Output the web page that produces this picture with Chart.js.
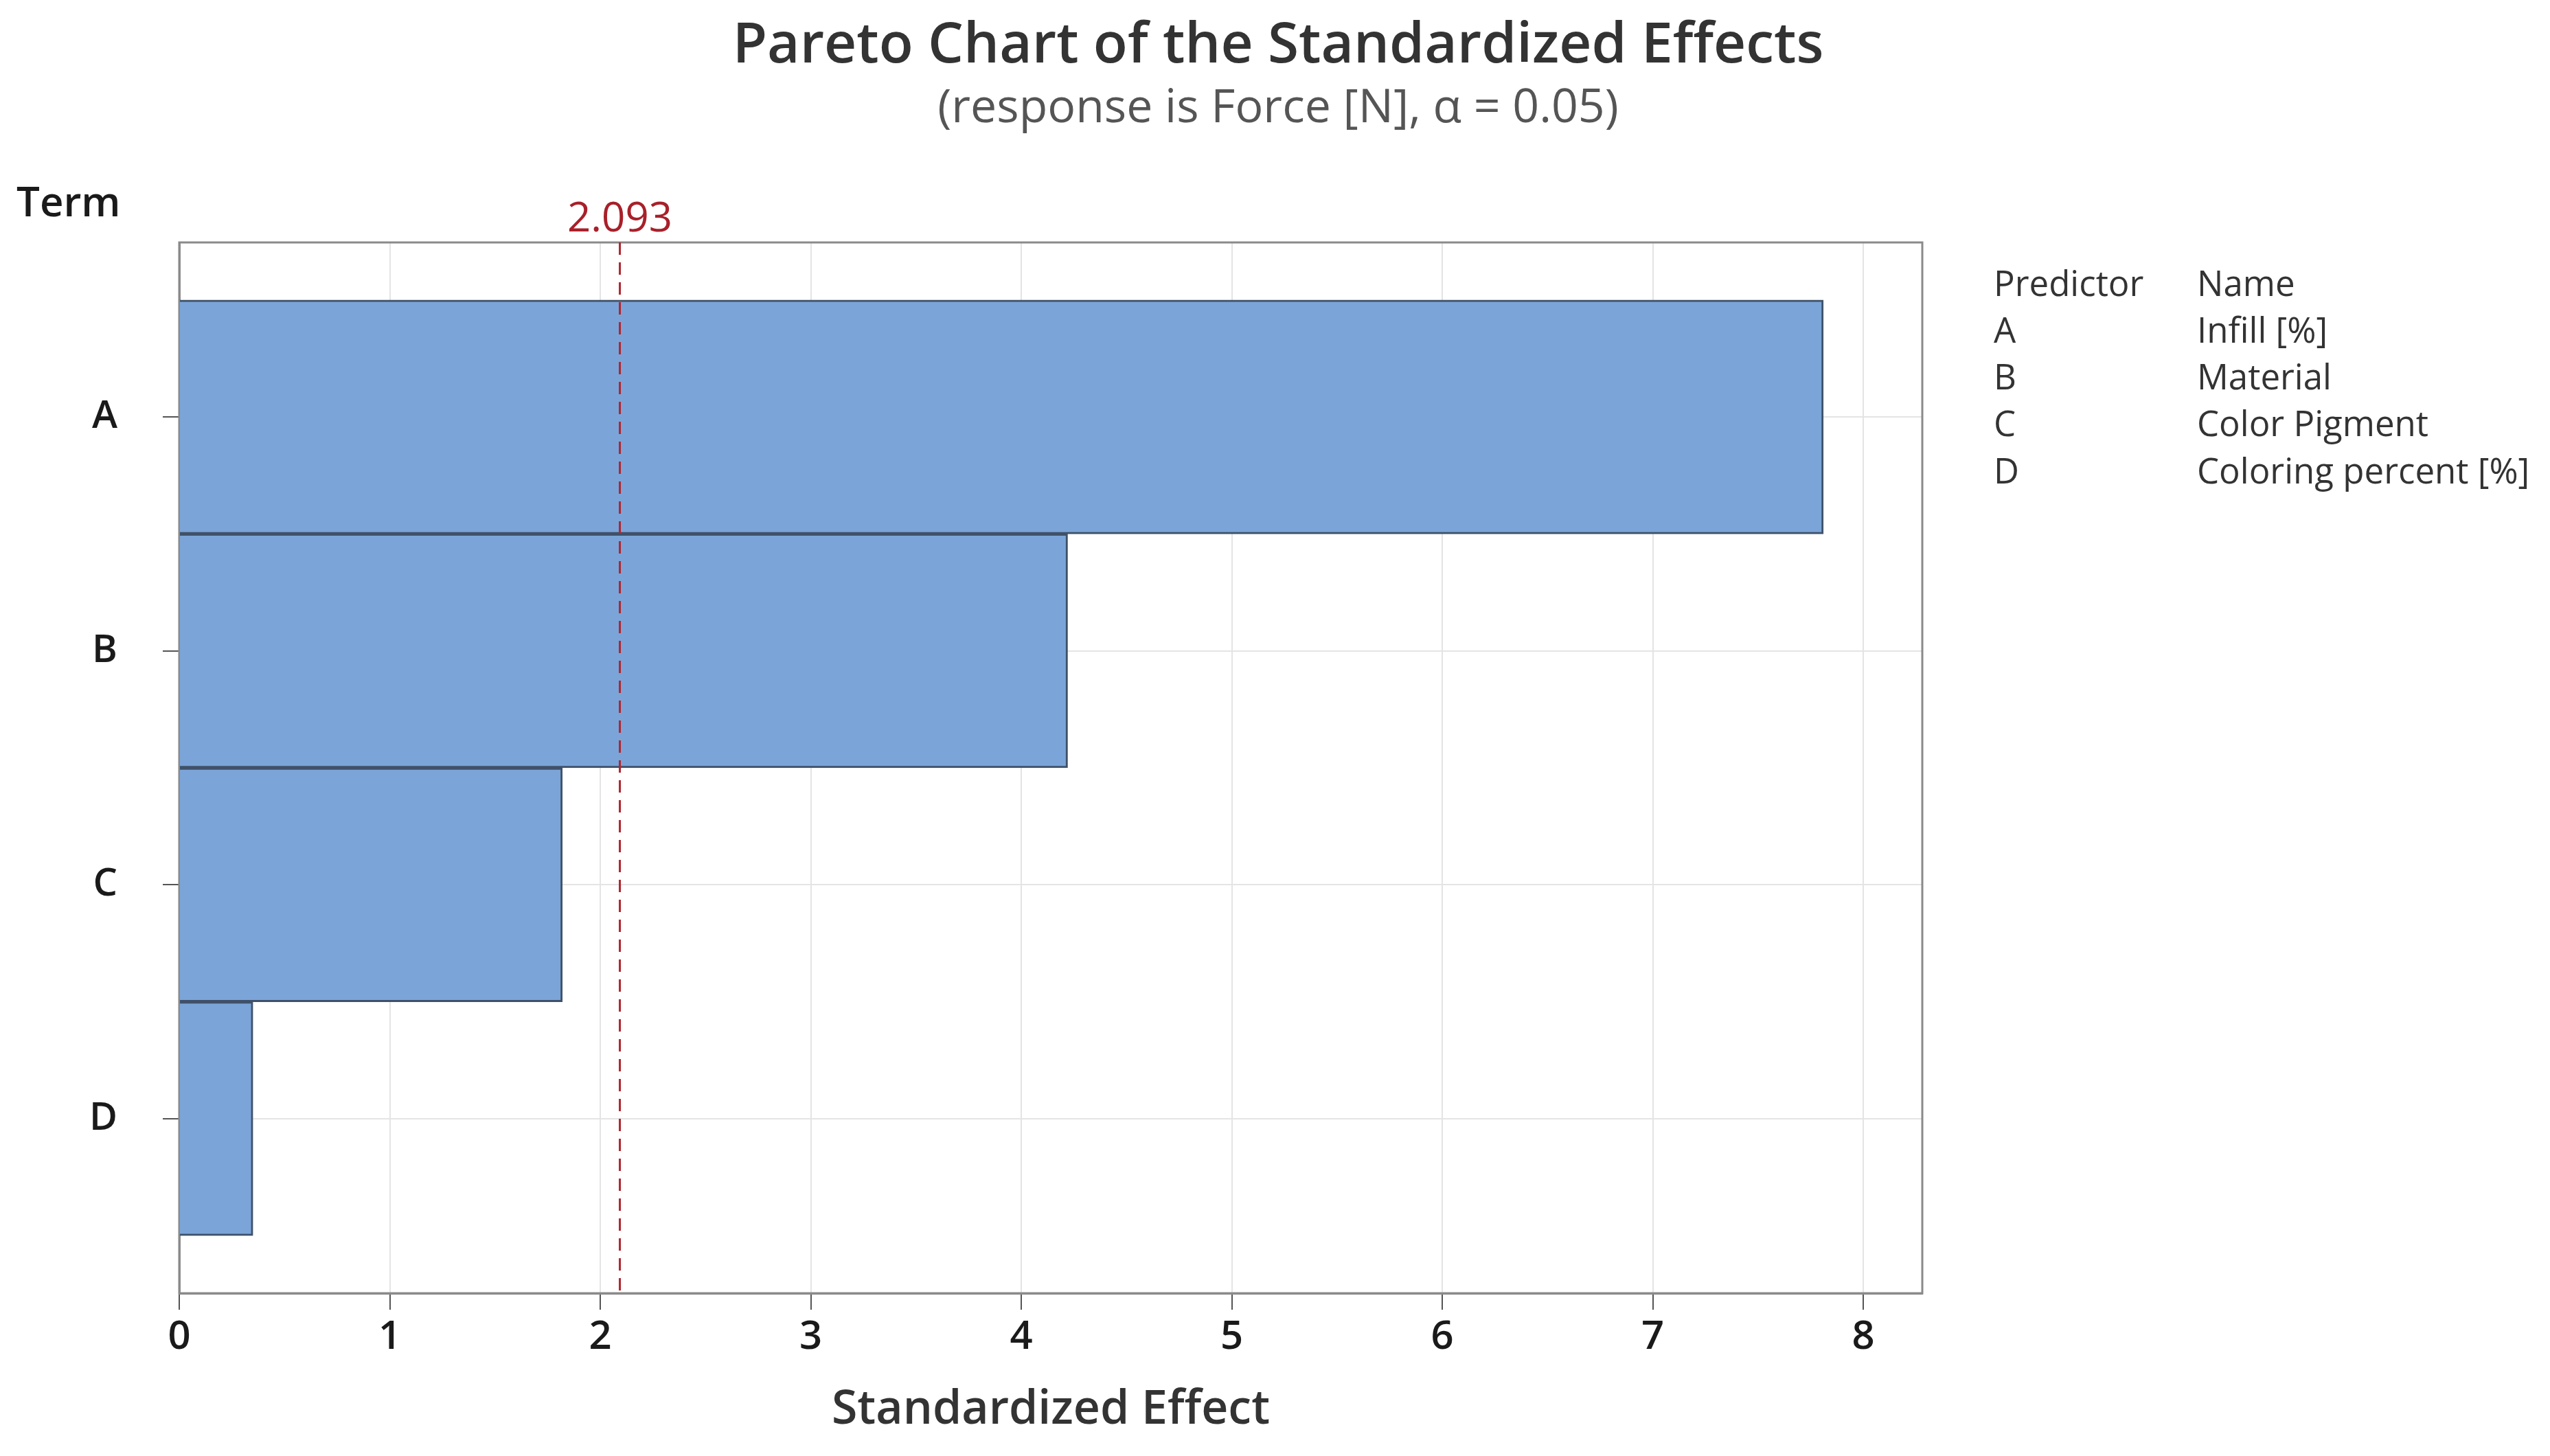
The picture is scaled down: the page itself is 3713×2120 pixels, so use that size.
<!DOCTYPE html>
<html>
<head>
<meta charset="utf-8">
<script src="https://cdn.jsdelivr.net/npm/chart.js@4/dist/chart.umd.min.js"></script>
<style>
	html, body { margin: 0; padding: 0; background: #fff; }
	canvas { display: block; }
</style>
</head>
<body>
<canvas id="graficoPareto" width="3713" height="2120"></canvas>
<script>
var terms = ['A', 'B', 'C', 'D'];
var effects = [7.81, 4.22, 1.82, 0.35];
var xTicks = [0, 1, 2, 3, 4, 5, 6, 7, 8];
var threshold = 2.093;
var predictors = ['A', 'B', 'C', 'D'];
var predictorNames = ['Infill [%]', 'Material', 'Color Pigment', 'Coloring percent [%]'];

var Pareto = Pareto || {};

Pareto.Grafico = (function() {

	var FONT = '"Open Sans", "Noto Sans", sans-serif';

	function Grafico() {
		this.ctx = document.getElementById('graficoPareto').getContext('2d');
	}

	Grafico.prototype.iniciar = function() {
		var pontos = terms.map(function(t, i) {
			return { x: effects[i], y: i };
		});

		new Chart(this.ctx, {
			type: 'bar',
			data: {
				datasets: [{
					data: pontos,
					backgroundColor: '#7BA5D8',
					borderColor: '#3F5169',
					borderWidth: 3,
					categoryPercentage: 1,
					barPercentage: 1
				}]
			},
			options: {
				indexAxis: 'y',
				responsive: false,
				animation: false,
				devicePixelRatio: 1,
				layout: { padding: { left: 0, top: 353, right: 914, bottom: 0 } },
				plugins: {
					legend: { display: false },
					tooltip: { enabled: false }
				},
				scales: {
					x: {
						type: 'linear',
						min: 0,
						max: 8.28,
						afterFit: function(scale) { scale.height = 237; },
						afterBuildTicks: function(scale) {
							scale.ticks = xTicks.map(function(v) { return { value: v }; });
						},
						ticks: {
							includeBounds: false,
							color: '#1a1a1a',
							padding: 6,
							font: { family: FONT, size: 58, weight: '600' }
						},
						grid: { color: '#e4e4e4', lineWidth: 2, tickLength: 24, tickColor: '#555', tickWidth: 2 },
						border: { color: '#8a8a8a', width: 3 },
						title: {
							display: true,
							text: 'Standardized Effect',
							color: '#333',
							padding: { top: 0, bottom: 26 },
							font: { family: FONT, size: 68, weight: '600' }
						}
					},
					y: {
						type: 'linear',
						reverse: true,
						offset: false,
						min: -0.746,
						max: 3.746,
						afterFit: function(scale) { scale.width = 261; },
						afterBuildTicks: function(scale) {
							scale.ticks = terms.map(function(t, i) { return { value: i }; });
						},
						ticks: {
							color: '#1a1a1a',
							padding: 66,
							callback: function(v) { return terms[v]; },
							font: { family: FONT, size: 56, weight: '600' }
						},
						grid: { offset: false, color: '#e4e4e4', lineWidth: 2, tickLength: 24, tickColor: '#555', tickWidth: 2 },
						border: { color: '#8a8a8a', width: 3 }
					}
				}
			},
			plugins: [extras]
		});
	};

	var extras = {
		id: 'extras',
		beforeDatasetsDraw: function(chart) {
			var c = chart.ctx;
			var a = chart.chartArea;
			c.save();
			c.strokeStyle = '#8a8a8a';
			c.lineWidth = 3;
			c.strokeRect(a.left, a.top, a.right - a.left, a.bottom - a.top);
			c.restore();
		},
		afterDatasetsDraw: function(chart) {
			var c = chart.ctx;
			var a = chart.chartArea;
			var px = chart.scales.x.getPixelForValue(threshold);

			c.save();
			// linha de referencia
			c.strokeStyle = '#B0262E';
			c.lineWidth = 3;
			c.setLineDash([18, 11]);
			c.beginPath();
			c.moveTo(px, a.top);
			c.lineTo(px, a.bottom);
			c.stroke();
			c.setLineDash([]);

			c.textAlign = 'center';
			c.textBaseline = 'middle';
			c.fillStyle = '#A8202A';
			c.font = '500 60px ' + FONT;
			c.fillText(threshold.toFixed(3), px, 320);

			// titulos
			c.fillStyle = '#333';
			c.font = '600 82px ' + FONT;
			c.fillText('Pareto Chart of the Standardized Effects', 1861, 68);
			c.fillStyle = '#555';
			c.font = '400 68px ' + FONT;
			c.fillText('(response is Force [N], \u03b1 = 0.05)', 1861, 159);

			c.textAlign = 'left';
			c.fillStyle = '#1a1a1a';
			c.font = '600 60px ' + FONT;
			c.fillText('Term', 24, 298);

			// tabela de preditores
			c.fillStyle = '#333';
			c.font = '400 51px ' + FONT;
			c.fillText('Predictor', 2903, 416);
			c.fillText('Name', 3199, 416);
			predictors.forEach(function(p, i) {
				var y = 416 + (i + 1) * 68.3;
				c.fillText(p, 2903, y);
				c.fillText(predictorNames[i], 3199, y);
			});
			c.restore();
		}
	};

	return Grafico;

}());

(function() {
	var grafico = new Pareto.Grafico();
	grafico.iniciar();
}());
</script>
</body>
</html>
